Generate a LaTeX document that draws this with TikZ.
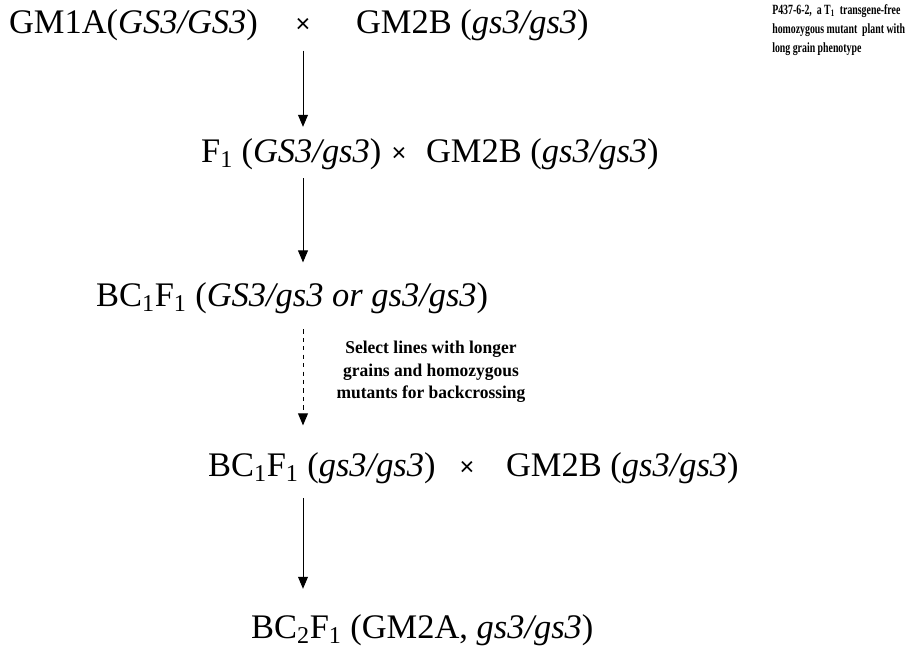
\documentclass[tikz,border=0pt]{standalone}
\usepackage{fontspec}
\setmainfont{Liberation Serif}
\newfontfamily\notefont[FakeStretch=0.7]{Liberation Serif}
\newfontfamily\selfont[FakeStretch=0.97]{Liberation Serif}
\newfontfamily\crossfont{Liberation Sans}
\usetikzlibrary{arrows.meta,positioning}
\newcommand{\gn}[1]{\textit{#1}}
\newcommand{\idx}[1]{\textsubscript{#1}}

\begin{document}
\begin{tikzpicture}[x=0.025cm,y=-0.025cm,
  plant/.style={anchor=west,inner sep=2pt,font=\fontsize{24.5}{29}\selectfont},
  cross/.style={inner sep=1pt,font=\crossfont\fontsize{18}{20}\selectfont},
  note/.style={inner sep=0pt,font=\notefont\bfseries\fontsize{10}{13.5}\selectfont},
  selnote/.style={inner sep=0pt,align=center,font=\selfont\bfseries\fontsize{12.8}{16}\selectfont},
  flow/.style={-{Triangle[width=7pt,length=8.5pt]},line width=0.7pt}
]
  \useasboundingbox (0,0) rectangle (908,656);
  \coordinate (ax) at (303,0);
  % parents
  \node[plant] (gma) at (6,25) {GM1A(\gn{GS3/GS3})};
  \node[cross] (x1) at (303,25) {×};
  \node[plant] (gmb1) at (353,25) {GM2B (\gn{gs3/gs3})};
  \node[note,align=left,anchor=north west] (donor) at (772,4)
    {P437-6-2,~ a T\idx{1}~ transgene-free\\homozygous mutant~ plant with\\long grain phenotype};
  % F1 x GM2B
  \node[plant] (f1) at (198,154) {F\idx{1} (\gn{GS3/gs3})};
  \node[cross] (x2) at (399,154) {×};
  \node[plant] (gmb2) at (423,154) {GM2B (\gn{gs3/gs3})};
  % BC1F1
  \node[plant] (bc1) at (93,298) {BC\idx{1}F\idx{1} (\gn{GS3/gs3 or gs3/gs3})};
  \node[selnote] (sel) at (431,372)
    {Select lines with longer\\grains and homozygous\\mutants for backcrossing};
  \node[plant] (bc1h) at (205,468) {BC\idx{1}F\idx{1} (\gn{gs3/gs3})};
  \node[cross] (x3) at (467,468) {×};
  \node[plant] (gmb3) at (503,468) {GM2B (\gn{gs3/gs3})};
  % BC2F1
  \node[plant] (bc2) at (248,630) {BC\idx{2}F\idx{1} (GM2A, \gn{gs3/gs3})};

  \draw[flow,shorten <=5pt,shorten >=6pt] (ax |- gma.south) -- (ax |- f1.north);
  \draw[flow,shorten <=4pt,shorten >=12pt] (ax |- f1.south) -- (ax |- bc1.north);
  \draw[flow,dashed,shorten <=9pt,shorten >=17pt] (ax |- bc1.south) -- (ax |- bc1h.north);
  \draw[flow,shorten <=8pt,shorten >=16pt] (ax |- bc1h.south) -- (ax |- bc2.north);
\end{tikzpicture}
\end{document}
